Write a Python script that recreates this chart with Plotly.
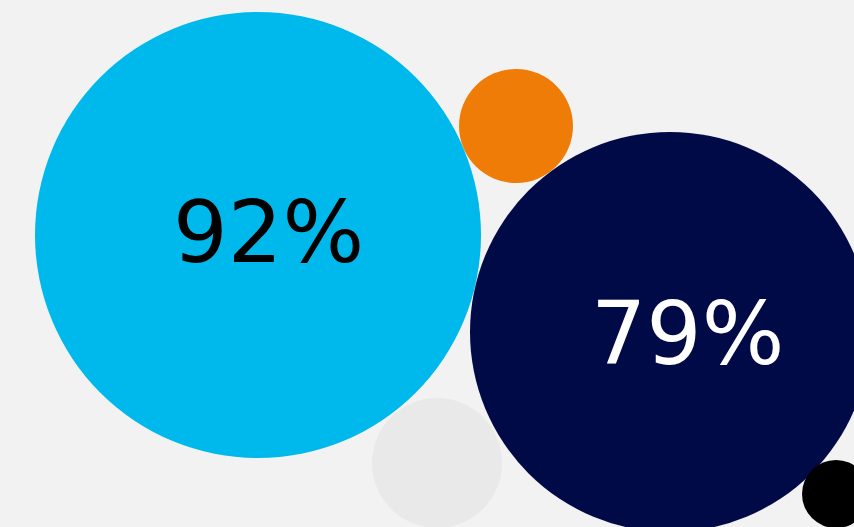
import plotly.graph_objects as go

# Bubble data: label, centre (x, y), diameter, colour
names = ["Blue", "Orange", "Navy", "Grey", "Black"]
bubble_x = [258, 516, 670, 437, 836]
bubble_y = [235, 126, 332, 463, 494]
diameters = [446, 114, 400, 130, 68]
colors = ["#00b9ec", "#ef7c07", "#000a47", "#e9e9e9", "#000000"]

# Percentage labels
labels = ["92%", "79%"]
label_x = [268, 687]
label_y = [232, 334]
label_sizes = [86, 87]
label_colors = ["#000000", "#ffffff"]

fig = go.Figure()
fig.add_trace(go.Scatter(
    x=bubble_x, y=bubble_y, mode="markers",
    marker=dict(size=diameters, color=colors, opacity=1,
                line=dict(width=0), sizemode="diameter"),
    hoverinfo="skip", showlegend=False,
))
for t, x, y, s, c in zip(labels, label_x, label_y, label_sizes, label_colors):
    fig.add_annotation(x=x, y=y, text=t, showarrow=False,
                       font=dict(family="DejaVu Sans", size=s, color=c),
                       xanchor="center", yanchor="middle")

fig.update_layout(
    width=854, height=527,
    margin=dict(l=0, r=0, t=0, b=0),
    paper_bgcolor="#f2f2f2", plot_bgcolor="#f2f2f2",
    xaxis=dict(range=[0, 854], visible=False, fixedrange=True),
    yaxis=dict(range=[527, 0], visible=False, fixedrange=True),
)
fig.write_html("out.html")
